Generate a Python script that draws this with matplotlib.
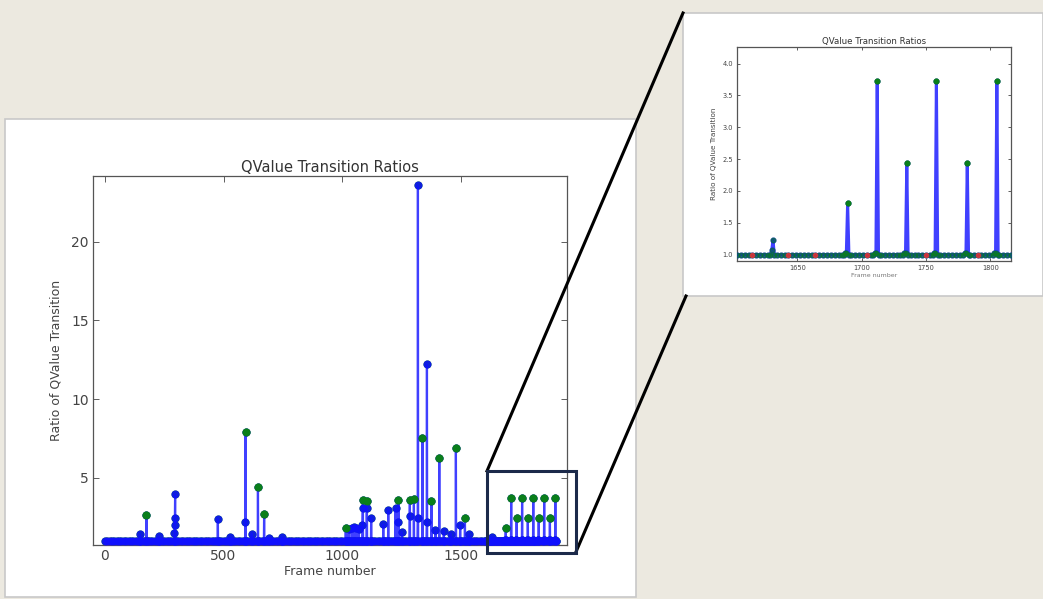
import matplotlib
matplotlib.use("Agg")

import matplotlib.pyplot as plt
import pandas as pd
from matplotlib.lines import Line2D
from matplotlib.patches import Rectangle

W, H = 1043, 599

# frames sitting on the baseline (ratio 1.0); denser where the inset shows detail
base_frames = [
    0, 10, 20, 30, 40, 50, 60, 70, 80, 90, 100, 110, 120, 130, 140, 150, 160, 170, 180, 190,
    200, 210, 220, 230, 240, 250, 260, 270, 280, 290, 300, 310, 320, 330, 340, 350, 360, 370, 380, 390,
    400, 410, 420, 430, 440, 450, 460, 470, 480, 490, 500, 510, 520, 530, 540, 550, 560, 570, 580, 590,
    600, 610, 620, 630, 640, 650, 660, 670, 680, 690, 700, 710, 720, 730, 740, 750, 760, 770, 780, 790,
    800, 810, 820, 830, 840, 850, 860, 870, 880, 890, 900, 910, 920, 930, 940, 950, 960, 970, 980, 990,
    1000, 1010, 1020, 1030, 1040, 1050, 1060, 1070, 1080, 1090, 1100, 1110, 1120, 1130, 1140, 1150,
    1160, 1170, 1180, 1190, 1200, 1210, 1220, 1230, 1240, 1250, 1260, 1270, 1280, 1290, 1300, 1310,
    1320, 1330, 1340, 1350, 1360, 1370, 1380, 1390, 1400, 1410, 1420, 1430, 1440, 1450, 1460, 1470,
    1480, 1490, 1500, 1510, 1520, 1530, 1540, 1550, 1560, 1570, 1580, 1590, 1600,
    1603, 1606, 1609, 1612, 1615, 1618, 1621, 1624, 1627, 1634, 1637, 1640, 1643, 1646, 1649,
    1652, 1655, 1658, 1661, 1664, 1667, 1670, 1673, 1676, 1679, 1682, 1685, 1692, 1695, 1698,
    1701, 1704, 1707, 1715, 1718, 1721, 1724, 1727, 1730, 1738, 1741, 1744, 1747, 1750, 1753,
    1761, 1764, 1767, 1770, 1773, 1776, 1779, 1784, 1787, 1790, 1793, 1796, 1799, 1802, 1807,
    1810, 1813, 1816, 1820, 1830, 1840, 1850, 1860, 1870, 1880, 1890, 1900,
]

# frames where the ratio leaves the baseline
spike_frames = [
    148, 175, 227,
    293, 294, 295, 296,
    476, 528, 592, 593, 619, 645, 671, 690, 747,
    1015, 1027, 1040, 1050, 1060, 1070,
    1085, 1086, 1087, 1103, 1104, 1122, 1173, 1194, 1225, 1236, 1237, 1251,
    1284, 1285, 1302, 1318, 1319, 1338, 1356, 1357, 1376, 1393, 1409, 1428,
    1457, 1479, 1497, 1517, 1534,
    1630, 1631,
    1687, 1688, 1689, 1710, 1711, 1712, 1733, 1734, 1735, 1756, 1757, 1758,
    1780, 1781, 1782, 1803, 1804, 1805, 1826, 1827, 1828, 1849, 1850, 1851,
    1873, 1874, 1875, 1896, 1897, 1898,
]
spike_ratios = [
    1.40, 2.62, 1.30,
    1.50, 2.00, 2.47, 3.96,
    2.41, 1.25, 2.20, 7.88, 1.46, 4.43, 2.69, 1.20, 1.25,
    1.84, 1.75, 1.80, 1.85, 1.80, 1.75,
    2.00, 3.05, 3.62, 3.05, 3.53, 2.47, 2.05, 2.98, 3.05, 2.20, 3.58, 1.56,
    2.56, 3.58, 3.68, 2.47, 23.58, 7.50, 2.20, 12.22, 3.53, 1.67, 6.27, 1.63,
    1.46, 6.90, 2.00, 2.47, 1.40,
    1.07, 1.23,
    1.03, 1.03, 1.81, 1.03, 1.03, 3.73, 1.03, 1.03, 2.44, 1.03, 1.03, 3.73,
    1.03, 1.03, 2.44, 1.03, 1.03, 3.73, 1.03, 1.03, 2.44, 1.03, 1.03, 3.73,
    1.03, 1.03, 2.44, 1.03, 1.03, 3.73,
]

green_frames = [
    175, 593, 645, 671, 1015, 1087, 1104, 1237, 1285, 1302, 1338, 1376,
    1409, 1479, 1517, 1689, 1712, 1735, 1758, 1782, 1805, 1828, 1851, 1875, 1898,
]
red_frames = [
    10, 20, 330, 360, 420, 440, 700, 720, 760, 790, 830, 860, 900, 930, 960,
    990, 1560, 1580, 1615, 1643, 1664, 1704, 1750, 1790, 1840,
]

ratios = pd.Series(1.0, index=base_frames, dtype=float)
for f, v in zip(spike_frames, spike_ratios):
    ratios.loc[f] = v
# spikes are one frame wide: fall back to baseline right beside them
for f in spike_frames:
    for n in (f - 1, f + 1):
        if n not in spike_frames:
            ratios.loc[n] = 1.0
ratios = ratios.sort_index()

BLUE = "#1010ff"
GREEN = "#0a7f1a"
RED = "#e8303a"
BG = "#ece9e0"


def fig_rect(x0, y0, x1, y1):
    # pixel box (top-left origin) -> figure fraction [l, b, w, h]
    return [x0 / W, 1 - y1 / H, (x1 - x0) / W, (y1 - y0) / H]


def fx(x):
    return x / W


def fy(y):
    return 1 - y / H


def draw_ratios(ax, ms, lw, inset=False):
    # inset: baseline markers sit over the line (dark teal band); main: line on top
    ax.plot(ratios.index, ratios.values, "o", color=GREEN, ms=ms, mec=GREEN,
            zorder=4.5 if inset else 2, alpha=0.55 if inset else 1)
    ax.plot(red_frames, ratios.loc[red_frames].values, "o", color=RED, ms=ms * 0.9,
            mec=RED, alpha=0.8, zorder=4.6 if inset else 3)
    ax.plot(ratios.index, ratios.values, "-o", color=BLUE, lw=lw, ms=ms, mec=BLUE,
            alpha=0.8, zorder=4)
    ax.plot(green_frames, ratios.loc[green_frames].values, "o", color=GREEN, ms=ms,
            mec=GREEN, zorder=5)


def style_axes(ax, fs, length):
    ax.tick_params(direction="in", top=True, right=True, length=length, width=0.6,
                   labelsize=fs, colors="#444444", pad=3)
    for sp in ax.spines.values():
        sp.set_color("#555555")
        sp.set_linewidth(0.9)


fig = plt.figure(figsize=(W / 100, H / 100), dpi=100, facecolor=BG)

# white slide panels
fig.add_artist(Rectangle((fx(5), fy(597)), (636 - 5) / W, (597 - 119) / H,
                         transform=fig.transFigure, facecolor="white",
                         edgecolor="#c8c8c8", lw=1.2, zorder=-2))
fig.add_artist(Rectangle((fx(683), fy(296)), (1043 - 683) / W, (296 - 13) / H,
                         transform=fig.transFigure, facecolor="white",
                         edgecolor="#c8c8c8", lw=1.2, zorder=-2))

# main chart
ax = fig.add_axes(fig_rect(93, 176, 566.5, 545))
draw_ratios(ax, ms=4.8, lw=1.6)
ax.set_xlim(-50, 1945)
ax.set_ylim(0.73, 24.17)
ax.set_xticks([0, 500, 1000, 1500])
ax.set_yticks([5, 10, 15, 20])
style_axes(ax, 10, 4)
ax.set_title("QValue Transition Ratios", fontsize=10.5, color="#333333", pad=3)
ax.set_xlabel("Frame number", fontsize=9, color="#444444", labelpad=1)
ax.set_ylabel("Ratio of QValue Transition", fontsize=9, color="#444444", labelpad=6)

# zoomed inset
ax2 = fig.add_axes(fig_rect(737, 47, 1011, 261))
draw_ratios(ax2, ms=3.3, lw=2.2, inset=True)
ax2.set_xlim(1603, 1816)
ax2.set_ylim(0.9, 4.26)
ax2.set_xticks([1650, 1700, 1750, 1800])
ax2.set_yticks([1.0, 1.5, 2.0, 2.5, 3.0, 3.5, 4.0])
style_axes(ax2, 4.8, 2.5)
ax2.set_title("QValue Transition Ratios", fontsize=6.2, color="#333333", pad=2)
ax2.set_xlabel("Frame number", fontsize=4.5, color="#777777", labelpad=1)
ax2.set_ylabel("Ratio of QValue Transition", fontsize=5.2, color="#444444", labelpad=4)

# highlight box and connectors
fig.add_artist(Rectangle((fx(487), fy(553)), (575.5 - 487) / W, (553 - 471) / H,
                         transform=fig.transFigure, facecolor="none",
                         edgecolor="#1c2a4a", lw=2.2, zorder=10))
fig.add_artist(Line2D([fx(487), fx(683)], [fy(471), fy(13)], transform=fig.transFigure,
                      color="black", lw=2.2, zorder=9))
fig.add_artist(Line2D([fx(575.5), fx(686)], [fy(553), fy(296)], transform=fig.transFigure,
                      color="black", lw=2.2, zorder=9))

fig.savefig("out.png", dpi=100, facecolor=BG)
